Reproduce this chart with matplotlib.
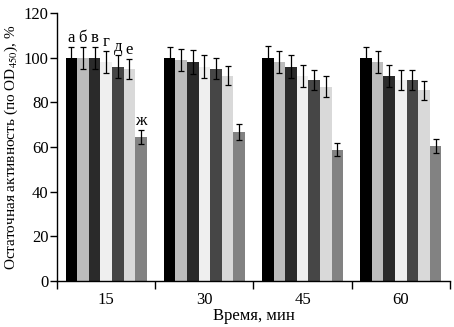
import numpy as np
import matplotlib.pyplot as plt

plt.rcParams['font.family'] = ['Liberation Serif', 'DejaVu Serif']
plt.rcParams['mathtext.fontset'] = 'stix'

times = ["15", "30", "45", "60"]
series = ["а", "б", "в", "г", "д", "е", "ж"]
colors = ["#000000", "#bcbcbc", "#2a2a2a", "#efefef", "#464646", "#d9d9d9", "#828282"]

values = [
    [100, 100, 100, 100],   # а
    [100, 99, 98, 98],      # б
    [100, 98, 96, 92],      # в
    [98, 96, 92, 90],       # г
    [96, 95, 90, 90],       # д
    [95, 92, 87, 85.5],     # е
    [64.5, 66.7, 58.8, 60.3],  # ж
]
errors = [
    [5, 5, 5.2, 5],
    [5, 4.9, 5, 5],
    [5, 5.4, 5.2, 4.9],
    [5, 5.2, 4.9, 4.6],
    [5, 4.7, 4.6, 4.6],
    [4.6, 4.4, 4.6, 4.3],
    [3.2, 3.5, 2.8, 3.1],
]

fig = plt.figure(figsize=(4.54, 3.27), dpi=100)
ax = fig.add_axes([0.1256, 0.1407, 0.8654, 0.8193])

x = np.arange(len(times))
w = 0.118
for i, (name, c) in enumerate(zip(series, colors)):
    pos = x + (i - 3) * w
    ax.bar(pos, values[i], w, color=c, linewidth=0)
    ax.errorbar(pos, values[i], yerr=errors[i], fmt="none", ecolor="black",
                elinewidth=0.9, capsize=2.5, capthick=0.9)
    # letter labels only over the first group
    ax.annotate(name, (pos[0], values[i][0] + errors[i][0]), xytext=(0, 0.5),
                textcoords="offset points", ha="center", va="bottom", fontsize=12)

ax.set_xlim(-0.5, 3.5)
ax.set_ylim(0, 120)
ax.set_yticks(range(0, 121, 20))
ax.set_xticks(np.arange(-0.5, 4, 1))
ax.set_xticklabels([])
ax.set_xticks(x, minor=True)
ax.set_xticklabels(times, minor=True)
ax.tick_params(axis="x", which="minor", length=0, pad=8, labelsize=12)
ax.tick_params(axis="x", which="major", length=6, width=1)
ax.tick_params(axis="y", length=5, width=1, labelsize=12, pad=1)

for s in ["top", "right"]:
    ax.spines[s].set_visible(False)
for s in ["left", "bottom"]:
    ax.spines[s].set_linewidth(1)

ax.set_xlabel("Время, мин", fontsize=12, labelpad=0)
ax.set_ylabel("Остаточная активность (по OD$_{450}$), %", fontsize=11, labelpad=3)

fig.savefig("out.png", dpi=100)
